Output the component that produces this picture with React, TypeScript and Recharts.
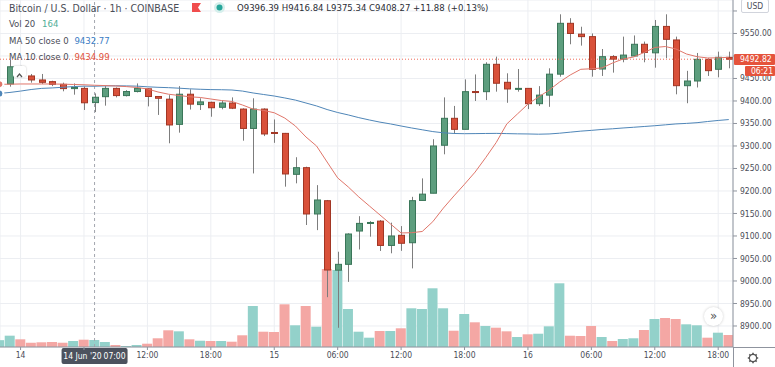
import React from "react";
import {
  ComposedChart,
  Bar,
  Line,
  XAxis,
  YAxis,
  CartesianGrid,
  ReferenceLine,
  Cell,
} from "recharts";

// hourly candles, index 1 = 14 Jun 2020 00:00 (index -1 = 13 Jun 22:00)
const candleIndex = Array.from({ length: 70 }, (_, i) => i - 1);

const opens = [
  9433, 9437.8, 9472, 9455.6, 9446.7, 9443, 9437, 9427.5, 9428, 9396.39,
  9409.6, 9428, 9412, 9421, 9427, 9410, 9404, 9348, 9415, 9392,
  9397, 9386, 9395.5, 9382, 9339, 9382, 9330, 9328, 9237, 9251.8,
  9148.9, 9178.4, 9024, 9037, 9111, 9128, 9133, 9079, 9101.5, 9085,
  9179, 9195, 9301.6, 9361.5, 9337, 9421, 9420.7, 9481.5, 9441.5, 9426,
  9428, 9394, 9413, 9459.6, 9572.6, 9548.5, 9543, 9471, 9498.5, 9493,
  9500, 9526, 9507, 9565.7, 9535.6, 9434, 9444.4, 9492.6, 9470.4, 9497,
];
const closes = [
  9437, 9476, 9466, 9446.7, 9441.5, 9437, 9427.5, 9430, 9396, 9408.27,
  9428, 9412, 9421, 9428, 9410, 9406, 9346.7, 9415, 9393, 9398,
  9385, 9395.5, 9384, 9339, 9382, 9326.7, 9328, 9237.8, 9251.8, 9148.9,
  9180, 9024.4, 9037, 9104.4, 9128, 9130, 9079, 9100, 9083.8, 9178.5,
  9193, 9300, 9361.5, 9337, 9420.7, 9420, 9481.5, 9439.4, 9426.7, 9428,
  9394, 9413, 9459.6, 9572.6, 9550, 9543, 9470.4, 9498.5, 9493, 9502,
  9526, 9508, 9565.7, 9537, 9434, 9444.4, 9492.6, 9467.4, 9497, 9492.82,
];
const highs = [
  9440, 9491, 9478, 9460, 9460, 9445, 9440.7, 9439, 9432, 9416.84,
  9433, 9430, 9424, 9439, 9428, 9411, 9413, 9433, 9426, 9406,
  9398.5, 9400.7, 9408, 9383.7, 9406, 9383.7, 9359, 9329, 9275, 9254,
  9213, 9180, 9065, 9106, 9144, 9133, 9135.5, 9129.6, 9122, 9187,
  9228, 9315, 9408, 9389, 9448, 9459, 9486, 9498.5, 9461.5, 9471,
  9428, 9433, 9472.6, 9592.6, 9584, 9565, 9550, 9515.5, 9502, 9543,
  9545.6, 9532, 9580, 9592.6, 9543, 9467, 9506.7, 9495, 9509.6, 9509.6,
];
const lows = [
  9430, 9431.8, 9462, 9440.7, 9437.8, 9433, 9421.5, 9414, 9380, 9375.34,
  9389.6, 9408, 9410, 9419, 9388, 9369, 9306, 9329.6, 9381, 9380,
  9365, 9381.5, 9382, 9311.8, 9239, 9322, 9307, 9209.6, 9217, 9124.4,
  9113, 8964, 8896, 8998, 9070, 9098.5, 9066.7, 9061.5, 9067, 9028,
  9179, 9195, 9281.5, 9328, 9337, 9400, 9402, 9420.7, 9396, 9420.7,
  9382, 9389, 9387, 9454, 9526, 9523, 9454, 9455.6, 9463, 9486,
  9498.5, 9486, 9474, 9495, 9414.8, 9395, 9430, 9455.6, 9452.6, 9472.6,
];
const volumes = [
  160, 265, 180, 100, 110, 117, 100, 140, 171, 164,
  117, 47, 23, 47, 77, 204, 391, 367, 180, 147,
  140, 140, 124, 274, 959, 358, 351, 999, 508, 959,
  475, 1825, 1802, 889, 358, 218, 374, 374, 438, 906,
  889, 1374, 906, 381, 772, 578, 491, 452, 367, 234,
  297, 311, 484, 1491, 264, 257, 491, 234, 140, 187,
  204, 398, 655, 679, 655, 531, 508, 218, 335, 281,
];
const ma50 = [
  9416.7, 9419, 9422, 9425.5, 9428, 9429, 9430.5, 9432, 9433, 9432.77,
  9433.5, 9433.8, 9433.5, 9433, 9431.5, 9430.4, 9429.6, 9428.4, 9427, 9426,
  9425.3, 9425, 9424.4, 9422, 9417.8, 9414.4, 9411, 9406.7, 9402, 9395.5,
  9389, 9381, 9374.4, 9369, 9363, 9357.8, 9353, 9349, 9344.4, 9340,
  9336, 9332, 9329.3, 9327.8, 9327.3, 9327.5, 9327.8, 9328, 9327.5, 9327,
  9326.7, 9326.2, 9326.7, 9328.4, 9330.7, 9333, 9334.7, 9336.7, 9338.2, 9340,
  9341.6, 9343.3, 9345, 9347, 9349, 9350.2, 9351.8, 9354.4, 9356.7, 9358.7,
];
const ma10 = [
  9437, 9437.3, 9437.8, 9437.8, 9437.8, 9437.8, 9437.3, 9436.7, 9436, 9434.99,
  9434.2, 9433.3, 9432, 9430, 9426.7, 9420, 9415, 9412.2, 9409.3, 9407.8,
  9404.4, 9401, 9398.9, 9391, 9382, 9379, 9373.8, 9362, 9344.4, 9320,
  9300, 9264.4, 9229, 9209, 9186.7, 9166.7, 9146.7, 9126.7, 9106.7, 9107.3,
  9110, 9131.8, 9162, 9189, 9215, 9242, 9274, 9307.8, 9349, 9371,
  9393, 9409, 9424, 9442.2, 9457.8, 9470.4, 9471.6, 9473.3, 9484.4, 9493.3,
  9497.8, 9507.8, 9518.9, 9521, 9515.6, 9504.4, 9498.4, 9495.6, 9496, 9497,
];

const timeTicks = [1, 7, 13, 19, 25, 31, 37, 43, 49, 55, 61, 67];
const timeLabels = ["14", "06:00", "12:00", "18:00", "15", "06:00", "12:00", "18:00", "16", "06:00", "12:00", "18:00"];
const priceTicks = [8900, 8950, 9000, 9050, 9100, 9150, 9200, 9250, 9300, 9350, 9400, 9450, 9500, 9550, 9600];
// labels that sit under the USD box / last price tag
const hiddenPriceLabels = [9500, 9600];

const hoverIndex = 8;
const lastPrice = 9492.82;
const PRICE_MIN = 8853.3;
const PRICE_MAX = 9624.4;
const PLOT_H = 347;

const UP = "#5d9e7e";
const UP_BORDER = "#3a7659";
const DOWN = "#d9513a";
const DOWN_BORDER = "#a23624";
const WICK = "#7d7d7d";
const VOL_UP = "#93d1ca";
const VOL_DOWN = "#f4a7a4";
const FONT = "'Liberation Sans Narrow', 'DejaVu Sans Condensed', Roboto, sans-serif";
const TEXT = "#4a4d57";
const TAG = "#e5533c";

const rows = candleIndex.map((k, i) => ({
  k,
  open: opens[i],
  close: closes[i],
  high: highs[i],
  low: lows[i],
  vol: volumes[i],
  ma50: ma50[i],
  ma10: ma10[i],
}));

// same mapping as the price axis, for the html tag on top of it
const priceToY = (p: number) => ((PRICE_MAX - p) / (PRICE_MAX - PRICE_MIN)) * PLOT_H;

function Candle(props: any) {
  const { x, y, width, height, payload } = props;
  if (x == null || !payload) return null;
  const top = Math.min(y, y + height);
  const h = Math.abs(height);
  const { open, close, high, low } = payload;
  const toY = (p: number) => top + ((high - p) / (high - low)) * h;
  const up = close >= open;
  const bTop = toY(Math.max(open, close));
  const bBot = toY(Math.min(open, close));
  const cx = Math.round(x + width / 2) + 0.5;
  return (
    <g>
      <line x1={cx} x2={cx} y1={top} y2={top + h} stroke={WICK} strokeWidth={1} />
      <rect
        x={cx - 3}
        y={bTop}
        width={6}
        height={Math.max(1, bBot - bTop)}
        fill={up ? UP : DOWN}
        stroke={up ? UP_BORDER : DOWN_BORDER}
        strokeWidth={1}
      />
    </g>
  );
}

function TimeTag(props: any) {
  const vb = props.viewBox;
  if (!vb) return null;
  const cx = vb.x;
  const bottom = vb.y + vb.height;
  return (
    <g fontFamily={FONT} fontSize={8.5}>
      <rect x={cx - 33} y={bottom + 1} width={66} height={16} fill="#4c525e" rx={2} />
      <text x={cx - 12} y={bottom + 12} fill="#fff" textAnchor="middle">14 Jun '20</text>
      <text x={cx + 20} y={bottom + 12} fill="#fff" textAnchor="middle">07:00</text>
    </g>
  );
}

const legendRow: React.CSSProperties = {
  position: "absolute",
  fontSize: 9.5,
  lineHeight: "12px",
  color: TEXT,
  whiteSpace: "nowrap",
};

export default function App() {
  const tagY = priceToY(lastPrice);
  return (
    <div
      style={{
        position: "absolute",
        left: 0,
        top: 0,
        width: 775,
        height: 367,
        background: "#fff",
        fontFamily: FONT,
        overflow: "hidden",
      }}
    >
      <ComposedChart
        width={775}
        height={367}
        data={rows}
        margin={{ top: 0, right: 0, bottom: 0, left: 0 }}
      >
        <CartesianGrid xAxisId="t" yAxisId="p" stroke="#eceef2" />
        <XAxis
          xAxisId="t"
          dataKey="k"
          type="number"
          domain={[-0.946, 68.4]}
          allowDataOverflow
          ticks={timeTicks}
          tickFormatter={(v: number) => (v === hoverIndex - 1 ? "" : timeLabels[timeTicks.indexOf(v)])}
          height={20}
          axisLine={{ stroke: "#8f949e" }}
          tickLine={{ stroke: "#8f949e" }}
          tickSize={3}
          tickMargin={2}
          tick={{ fontSize: 8.5, fill: TEXT, fontFamily: FONT }}
          interval={0}
        />
        <XAxis xAxisId="v" dataKey="k" type="number" domain={[-0.946, 68.4]} allowDataOverflow hide />
        <YAxis
          yAxisId="p"
          orientation="right"
          type="number"
          domain={[PRICE_MIN, PRICE_MAX]}
          allowDataOverflow
          ticks={priceTicks}
          tickFormatter={(v: number) => (hiddenPriceLabels.includes(v) ? "" : v.toFixed(2))}
          width={42}
          axisLine={{ stroke: "#8f949e" }}
          tickLine={{ stroke: "#8f949e" }}
          tickSize={4}
          tickMargin={3}
          tick={{ fontSize: 8.5, fill: TEXT, fontFamily: FONT, textAnchor: "start" }}
          interval={0}
        />
        <YAxis yAxisId="v" type="number" domain={[0, 8120]} hide />
        <Bar xAxisId="v" yAxisId="v" dataKey="vol" barSize={10} isAnimationActive={false}>
          {rows.map((r, i) => (
            <Cell key={i} fill={r.close >= r.open ? VOL_UP : VOL_DOWN} />
          ))}
        </Bar>
        <ReferenceLine
          xAxisId="t"
          yAxisId="p"
          x={hoverIndex}
          stroke="#a3a6af"
          strokeDasharray="3 3"
          label={<TimeTag />}
        />
        <Bar
          xAxisId="t"
          yAxisId="p"
          dataKey={(d: any) => [d.low, d.high]}
          barSize={7}
          shape={<Candle />}
          isAnimationActive={false}
        />
        <Line
          xAxisId="t"
          yAxisId="p"
          dataKey="ma50"
          stroke="#4f86b8"
          strokeWidth={1}
          dot={false}
          isAnimationActive={false}
        />
        <Line
          xAxisId="t"
          yAxisId="p"
          dataKey="ma10"
          stroke="#e0766a"
          strokeWidth={1}
          dot={false}
          isAnimationActive={false}
        />
        <ReferenceLine
          xAxisId="t"
          yAxisId="p"
          y={lastPrice}
          stroke="#ef6a5a"
          strokeDasharray="1 2"
        />
      </ComposedChart>

      {/* axis borders outside the plot */}
      <div style={{ position: "absolute", left: 733, top: 347, width: 42, height: 1, background: "#8f949e" }} />
      <div style={{ position: "absolute", left: 733, top: 347, width: 1, height: 20, background: "#8f949e" }} />

      {/* last price tag and countdown */}
      <div
        style={{
          position: "absolute",
          left: 734,
          top: tagY - 5.5,
          width: 41,
          height: 11,
          background: TAG,
          color: "#fff",
          fontSize: 8.5,
          lineHeight: "11px",
          paddingLeft: 6,
          boxSizing: "border-box",
          borderRadius: 1,
        }}
      >
        {lastPrice.toFixed(2)}
      </div>
      <div
        style={{
          position: "absolute",
          left: 745,
          top: tagY + 7,
          width: 30,
          height: 10,
          background: TAG,
          color: "#fff",
          fontSize: 8.5,
          lineHeight: "10px",
          paddingLeft: 6,
          boxSizing: "border-box",
          borderRadius: 1,
        }}
      >
        06:21
      </div>

      {/* legend */}
      <div style={{ ...legendRow, left: 9, top: 1.5, fontSize: 10.5 }}>Bitcoin / U.S. Dollar · 1h · COINBASE</div>
      <svg style={{ position: "absolute", left: 192, top: 3 }} width={9} height={10}>
        <path d="M0 0 H9 L6 4.5 L9 9 H0 Z" fill="#f04d4d" />
      </svg>
      <svg style={{ position: "absolute", left: 213, top: 1 }} width={13} height={13}>
        <circle cx={6.5} cy={6.5} r={5.5} fill="#d6efec" />
        <circle cx={6.5} cy={6.5} r={3} fill="#26a69a" />
      </svg>
      <div style={{ ...legendRow, left: 237, top: 1.5, color: "#2b2e36" }}>
        O9396.39 H9416.84 L9375.34 C9408.27 +11.88 (+0.13%)
      </div>
      <div style={{ ...legendRow, left: 9, top: 18 }}>
        Vol 20 <span style={{ color: "#4fae97", marginLeft: 4 }}>164</span>
      </div>
      <div style={{ ...legendRow, left: 9, top: 34.5 }}>
        MA 50 close 0 <span style={{ color: "#3a7cc4", marginLeft: 3 }}>9432.77</span>
      </div>
      <div style={{ ...legendRow, left: 9, top: 50.5 }}>
        MA 10 close 0 <span style={{ color: "#e0533d", marginLeft: 3 }}>9434.99</span>
      </div>

      {/* collapse button */}
      <div
        style={{
          position: "absolute",
          left: 13,
          top: 66,
          width: 13,
          height: 11,
          background: "#fff",
          borderRadius: 2,
          boxShadow: "0 0 2px rgba(0,0,0,0.25)",
        }}
      >
        <svg width={13} height={11}>
          <path d="M4 7 L6.5 4 L9 7" stroke="#555" strokeWidth={1.2} fill="none" />
        </svg>
      </div>

      {/* currency box */}
      <div
        style={{
          position: "absolute",
          left: 741,
          top: -1,
          width: 26,
          height: 12,
          border: "1px solid #d1d4dc",
          borderRadius: 2,
          background: "#fff",
          fontSize: 8.5,
          lineHeight: "12px",
          textAlign: "center",
          color: TEXT,
        }}
      >
        USD
      </div>

      {/* scroll button */}
      <div
        style={{
          position: "absolute",
          left: 704,
          top: 307,
          width: 19,
          height: 19,
          borderRadius: 10,
          background: "#fff",
          boxShadow: "0 0 3px rgba(0,0,0,0.2)",
          fontSize: 13,
          lineHeight: "17px",
          textAlign: "center",
          color: "#555",
        }}
      >
        »
      </div>

      {/* settings gear */}
      <svg style={{ position: "absolute", left: 747, top: 352 }} width={12} height={12}>
        <circle cx={6} cy={6} r={3.6} stroke="#555" strokeWidth={1.2} fill="none" />
        {[0, 45, 90, 135].map((a) => (
          <line
            key={a}
            x1={6}
            y1={0.8}
            x2={6}
            y2={11.2}
            stroke="#555"
            strokeWidth={1.6}
            strokeDasharray="2 6.4"
            transform={`rotate(${a} 6 6)`}
          />
        ))}
        <circle cx={6} cy={6} r={1.4} fill="#fff" />
      </svg>
    </div>
  );
}
